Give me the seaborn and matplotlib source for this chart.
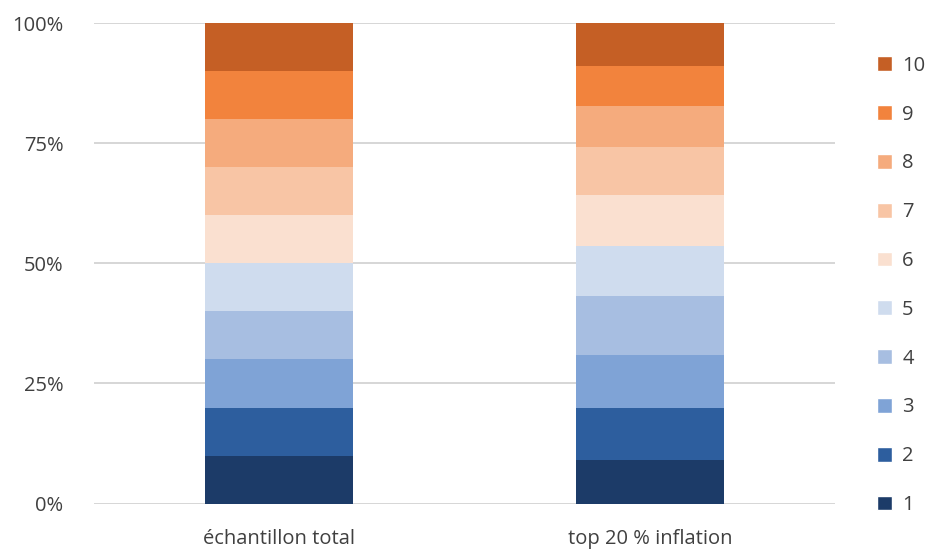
import matplotlib.pyplot as plt
from matplotlib.patches import Patch
import numpy as np
import pandas as pd
import seaborn as sns

categories = ["échantillon total", "top 20 % inflation"]
deciles = ["1", "2", "3", "4", "5", "6", "7", "8", "9", "10"]
share_total = [10, 10, 10, 10, 10, 10, 10, 10, 10, 10]
share_top20 = [9.1, 10.7, 11.2, 12.3, 10.4, 10.5, 10.1, 8.5, 8.3, 8.9]
colors = ["#1c3b68", "#2d5e9e", "#7fa3d6", "#a7bee1", "#cfdcee",
          "#fae0d0", "#f8c5a5", "#f5ab7d", "#f2833d", "#c55f25"]

sns.set_theme(style="white")
plt.rcParams["font.family"] = ["Open Sans", "DejaVu Sans"]

shares = pd.DataFrame({categories[0]: share_total, categories[1]: share_top20}, index=deciles)
cum = shares.cumsum()

fig, ax = plt.subplots(figsize=(9.29, 5.51), dpi=100)
fig.subplots_adjust(left=0.101, right=0.899, top=0.958, bottom=0.086)

# draw cumulative totals from the top down so the lower segments overlay
for i in range(len(deciles) - 1, -1, -1):
    dat = pd.DataFrame({"cat": categories, "val": cum.iloc[i].values})
    sns.barplot(data=dat, x="cat", y="val", color=colors[i], width=0.4,
                linewidth=0, saturation=1, ax=ax, zorder=2)

ax.set_ylim(0, 100)
ax.set_xlim(-0.5, 1.5)
ax.set_yticks([0, 25, 50, 75, 100])
ax.set_yticklabels([f"{v}%" for v in [0, 25, 50, 75, 100]])
ax.yaxis.grid(True, color="#d0d0d0", linewidth=1.2)
ax.set_axisbelow(True)
sns.despine(ax=ax, left=True, bottom=True)
ax.tick_params(axis="both", length=0, labelsize=14.5, colors="#404040")
ax.tick_params(axis="y", pad=22)
ax.tick_params(axis="x", pad=18)
ax.set_xlabel("")
ax.set_ylabel("")

handles = [Patch(facecolor=colors[i], label=deciles[i]) for i in range(len(deciles) - 1, -1, -1)]
fig.legend(handles=handles, loc="center left", bbox_to_anchor=(0.944, 0.482), frameon=False,
           fontsize=14.5, handlelength=0.75, handleheight=0.75, labelspacing=1.43,
           handletextpad=0.5, labelcolor="#404040", borderaxespad=0, borderpad=0)

fig.savefig("out.png", dpi=100)
